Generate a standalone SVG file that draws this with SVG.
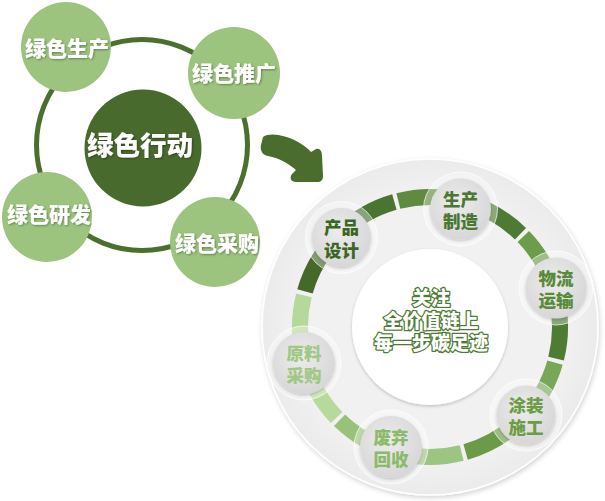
<svg xmlns="http://www.w3.org/2000/svg" xmlns:xlink="http://www.w3.org/1999/xlink" width="605" height="501" viewBox="0 0 605 501">
<style>
.sat{fill:#9cc47e;}
.lt{font-family:"Noto Sans CJK SC","Noto Sans",sans-serif;font-weight:900;fill:#ffffff;text-anchor:middle;}
.nt{font-family:"Noto Sans CJK SC","Noto Sans",sans-serif;font-weight:900;font-size:17.5px;text-anchor:middle;}
.ct{font-family:"Noto Sans CJK SC","Noto Sans",sans-serif;font-weight:900;font-size:19px;text-anchor:middle;fill:#ffffff;stroke:#4d7b33;stroke-width:2.6;paint-order:stroke;stroke-linejoin:round;}
.halo{fill:#ffffff;fill-opacity:0.35;stroke:#ffffff;stroke-opacity:0.7;stroke-width:1;}
.nc{fill:url(#ng);}
</style>
<defs>
<filter id="ts" x="-20%" y="-20%" width="140%" height="140%">
<feDropShadow dx="1" dy="1" stdDeviation="0.8" flood-color="#000" flood-opacity="0.35"/>
</filter>
<filter id="ds" x="-10%" y="-10%" width="120%" height="120%">
<feDropShadow dx="1" dy="2" stdDeviation="2.5" flood-color="#000" flood-opacity="0.18"/>
</filter>
<filter id="ns" x="-30%" y="-30%" width="160%" height="160%">
<feDropShadow dx="0" dy="1.5" stdDeviation="1.5" flood-color="#000" flood-opacity="0.2"/>
</filter>
<radialGradient id="dg" cx="50%" cy="50%" r="50%">
<stop offset="0.8" stop-color="#f1f1f1"/>
<stop offset="1" stop-color="#ebebeb"/>
</radialGradient>
<radialGradient id="ng" cx="45%" cy="40%" r="60%">
<stop offset="0" stop-color="#ececec"/>
<stop offset="1" stop-color="#d7d7d7"/>
</radialGradient>
<path id="seg" d="M559.98,329.04 A130,130 0 0 1 543.59,390.22" fill="none" stroke-width="16"/>
</defs>

<!-- Left diagram -->
<g id="left-ring">
<circle cx="142" cy="145" r="105.5" fill="none" stroke="#4b6f2d" stroke-width="5"/>
</g>
<g id="node-green-action">
<circle cx="143" cy="148" r="58.5" fill="#486a2d"/>
<text class="lt" x="140" y="155" font-size="26.5" filter="url(#ts)">绿色行动</text>
</g>
<g id="node-green-production">
<circle class="sat" cx="66" cy="47" r="45"/>
<text class="lt" x="67" y="55.5" font-size="21" filter="url(#ts)">绿色生产</text>
</g>
<g id="node-green-promotion">
<circle class="sat" cx="234" cy="73" r="46"/>
<text class="lt" x="234" y="81" font-size="21" filter="url(#ts)">绿色推广</text>
</g>
<g id="node-green-rd">
<circle class="sat" cx="47" cy="217" r="45"/>
<text class="lt" x="49" y="222" font-size="21" filter="url(#ts)">绿色研发</text>
</g>
<g id="node-green-purchase">
<circle class="sat" cx="215" cy="242" r="45"/>
<text class="lt" x="217" y="251" font-size="21" filter="url(#ts)">绿色采购</text>
</g>

<!-- Arrow -->
<g id="connectors">
<path d="M263,137 C270,132 285,135 298,142 C304,145 308,149 311,152 L316,149 C320,148 322,151 322,156 L323,176 C323,180 321,182 317,182 L296,182 C291,182 289,178 292,174 L296,170 C288,163 279,158 268,156 C262,155 260,150 261,145 Z" fill="#4a6d2e"/>
</g>

<!-- Right diagram -->
<g id="cycle-disk">
<circle cx="430" cy="327" r="168" fill="url(#dg)" stroke="#ffffff" stroke-width="1.5" filter="url(#ds)"/>
</g>
<g id="cycle-ring">
<use xlink:href="#seg" href="#seg" stroke="#4a7431" transform="rotate(-135 430 327)"/>
<use xlink:href="#seg" href="#seg" stroke="#5e8b3f" transform="rotate(-105 430 327)"/>
<use xlink:href="#seg" href="#seg" stroke="#4e7a33" transform="rotate(-75 430 327)"/>
<use xlink:href="#seg" href="#seg" stroke="#6d9c4b" transform="rotate(-45 430 327)"/>
<use xlink:href="#seg" href="#seg" stroke="#4f7c35" transform="rotate(-15 430 327)"/>
<use xlink:href="#seg" href="#seg" stroke="#78a857" transform="rotate(15 430 327)"/>
<use xlink:href="#seg" href="#seg" stroke="#6b9b49" transform="rotate(45 430 327)"/>
<use xlink:href="#seg" href="#seg" stroke="#9cc57f" transform="rotate(75 430 327)"/>
<use xlink:href="#seg" href="#seg" stroke="#98c27a" transform="rotate(105 430 327)"/>
<use xlink:href="#seg" href="#seg" stroke="#b7da9c" transform="rotate(135 430 327)"/>
<use xlink:href="#seg" href="#seg" stroke="#b5d99a" transform="rotate(165 430 327)"/>
<use xlink:href="#seg" href="#seg" stroke="#44692b" transform="rotate(195 430 327)"/>
</g>
<g id="center-core">
<circle cx="430" cy="327" r="78" fill="#ffffff" filter="url(#ns)"/>
<text class="ct" x="431" y="305">关注</text>
<text class="ct" x="431" y="327.5">全价值链上</text>
<text class="ct" x="431" y="350">每一步碳足迹</text>
</g>
<g id="node-product-design">
<circle class="halo" cx="341.5" cy="237.5" r="36"/>
<circle class="nc" cx="341.5" cy="237.5" r="29.5" filter="url(#ns)"/>
<text class="nt" fill="#3d6624" x="341.5" y="234">产品</text>
<text class="nt" fill="#3d6624" x="341.5" y="256.5">设计</text>
</g>
<g id="node-manufacturing">
<circle class="halo" cx="460.5" cy="209" r="37"/>
<circle class="nc" cx="460.5" cy="209" r="30.5" filter="url(#ns)"/>
<text class="nt" fill="#4a7731" x="460.5" y="205.5">生产</text>
<text class="nt" fill="#4a7731" x="460.5" y="228">制造</text>
</g>
<g id="node-logistics">
<circle class="halo" cx="556" cy="288" r="37"/>
<circle class="nc" cx="556" cy="288" r="30.5" filter="url(#ns)"/>
<text class="nt" fill="#588a38" x="556" y="284.5">物流</text>
<text class="nt" fill="#588a38" x="556" y="307">运输</text>
</g>
<g id="node-coating">
<circle class="halo" cx="526" cy="415" r="36"/>
<circle class="nc" cx="526" cy="415" r="29.5" filter="url(#ns)"/>
<text class="nt" fill="#6a9d45" x="526" y="411.5">涂装</text>
<text class="nt" fill="#6a9d45" x="526" y="434">施工</text>
</g>
<g id="node-recycling">
<circle class="halo" cx="391" cy="447" r="37"/>
<circle class="nc" cx="391" cy="447" r="31" filter="url(#ns)"/>
<text class="nt" fill="#8bbb6a" x="391" y="443.5">废弃</text>
<text class="nt" fill="#8bbb6a" x="391" y="466">回收</text>
</g>
<g id="node-raw-material">
<circle class="halo" cx="304" cy="363" r="37"/>
<circle class="nc" cx="304" cy="363" r="31" filter="url(#ns)"/>
<text class="nt" fill="#9ec883" x="304" y="359.5">原料</text>
<text class="nt" fill="#9ec883" x="304" y="382">采购</text>
</g>
</svg>
